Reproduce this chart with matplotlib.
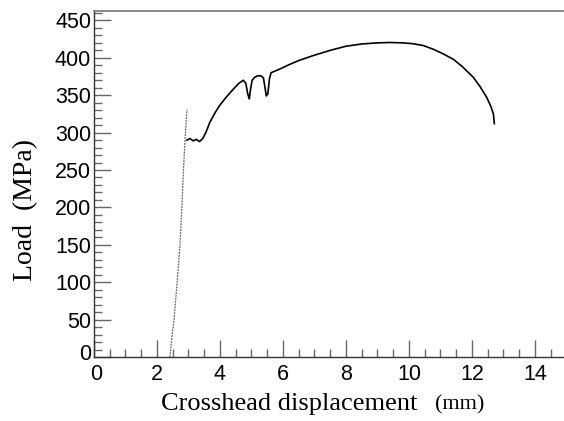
import matplotlib
matplotlib.use("Agg")
import matplotlib.pyplot as plt
import matplotlib.transforms as mtransforms
from matplotlib.ticker import MultipleLocator

# elastic (loading) segment
elastic_x = [2.41, 2.47, 2.54, 2.64, 2.73, 2.79, 2.84, 2.89, 2.95]
elastic_y = [0, 25, 50, 100, 150, 200, 250, 290, 331]

# plastic segment
curve_x = [2.95, 3.05, 3.15, 3.25, 3.35, 3.45, 3.55, 3.68, 3.85, 4.0, 4.21, 4.4,
           4.6, 4.74, 4.82, 4.88, 4.93, 4.97, 5.02, 5.1, 5.2, 5.3, 5.38, 5.43,
           5.47, 5.52, 5.57, 5.62, 5.9, 6.2, 6.54, 6.96, 7.5, 8.0, 8.5, 9.0,
           9.4, 9.8, 10.1, 10.45, 10.8, 11.1, 11.41, 11.7, 12.04, 12.25, 12.47,
           12.6, 12.68, 12.71]
curve_y = [290, 292, 289, 291, 288, 292, 300, 314, 327, 337, 348, 357,
           366, 370, 366, 352, 345, 358, 370, 374, 376, 376, 373, 360,
           349, 352, 372, 380, 385, 391, 397, 403, 410, 415.5, 418.5, 420,
           420.5, 420, 419, 416.5, 411, 405, 398, 388, 374, 362, 347,
           335, 325, 312]

x_ticks = [0, 2, 4, 6, 8, 10, 12, 14]
y_ticks = [0, 50, 100, 150, 200, 250, 300, 350, 400, 450]

fig = plt.figure(figsize=(5.64, 4.21), dpi=100)
ax = fig.add_axes([94/564, 64/421, (563-94)/564, (357-10.7)/421])

ax.plot(elastic_x, elastic_y, color="#666666", lw=0.9, ls=(0, (1.5, 0.8)))
ax.plot(curve_x, curve_y, color="black", lw=1.2)

ax.set_xlim(0, 14.89)
ax.set_ylim(0, 463)
ax.set_xticks(x_ticks)
ax.set_yticks(y_ticks)
ax.xaxis.set_minor_locator(MultipleLocator(0.5))
ax.yaxis.set_minor_locator(MultipleLocator(10))

ax.spines["right"].set_visible(False)
ax.spines["top"].set_color("#808080")
ax.spines["top"].set_linewidth(1.3)
ax.spines["left"].set_color("#333333")
ax.spines["bottom"].set_color("#333333")
ax.spines["left"].set_linewidth(1.0)
ax.spines["bottom"].set_linewidth(1.0)

ax.tick_params(which="both", direction="in", top=False, right=False, color="#666666", width=1.0)
ax.tick_params(which="major", length=12, pad=4)
ax.tick_params(which="minor", length=6)
ax.tick_params(axis="x", pad=5)
ax.tick_params(axis="y", pad=2)
for lab in ax.get_xticklabels() + ax.get_yticklabels():
    lab.set_fontfamily("Liberation Sans")
    lab.set_fontsize(15.5)

fig.canvas.draw()
ylab0 = ax.get_yticklabels()[0]
ylab0.set_transform(ylab0.get_transform() + mtransforms.ScaledTranslation(0, 5/100, fig.dpi_scale_trans))
xlab0 = ax.get_xticklabels()[0]
xlab0.set_transform(xlab0.get_transform() + mtransforms.ScaledTranslation(2/100, 0, fig.dpi_scale_trans))

fig.text(161/564, 1 - 404/421, "Crosshead displacement", family="Liberation Serif",
         fontsize=19, ha="left", va="center")
fig.text(435/564, 1 - 405/421, "(mm)", family="Liberation Serif",
         fontsize=16, ha="left", va="center")
fig.text(26/564, 1 - 210/421, "Load  (MPa)", family="Liberation Serif",
         fontsize=20, rotation=90, ha="center", va="center")

fig.savefig("out.png", dpi=100)
